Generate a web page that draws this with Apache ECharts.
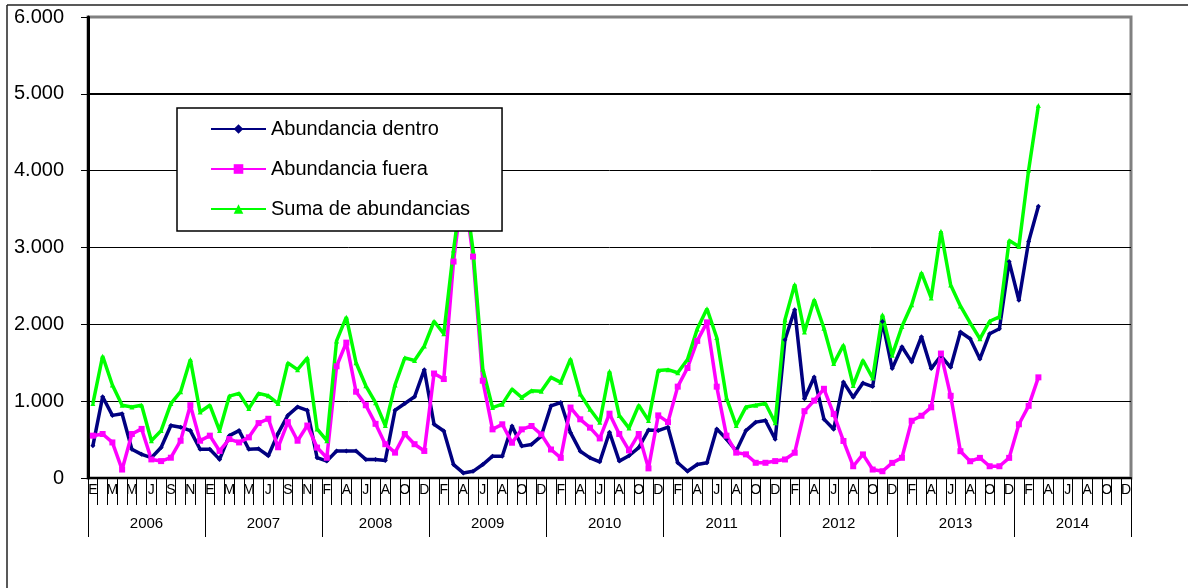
<!DOCTYPE html>
<html>
<head>
<meta charset="utf-8">
<script src="https://cdn.jsdelivr.net/npm/echarts@6/dist/echarts.min.js"></script>
<style>
  html, body { margin: 0; padding: 0; background: #fff; }
  #chart { width: 1188px; height: 588px; }
</style>
</head>
<body>
<div id="chart"></div>
<script>
// meses y años del eje (2008 empieza en febrero)
const monthLetters = ['E', 'F', 'M', 'A', 'M', 'J', 'J', 'A', 'S', 'O', 'N', 'D']
const years = ['2006', '2007', '2008', '2009', '2010', '2011', '2012', '2013', '2014']
const yearMonths = [12, 12, 11, 12, 12, 12, 12, 12, 12]

const dentro = [
  419, 1057, 815, 837, 374, 308, 264, 396, 683, 661, 617, 374,
  374, 242, 551, 617, 374, 380, 290, 580, 815, 925, 881, 264,
  220, 352, 352, 352, 242, 242, 229, 881, 969, 1057, 1410,
  700, 611, 175, 66, 87, 175, 284, 284, 677, 415, 437, 546,
  939, 983, 590, 349, 262, 210, 595, 220, 290, 396, 625, 617,
  661, 198, 88, 176, 198, 639, 507, 352, 617, 727, 749, 505,
  1800, 2190, 1030, 1314, 766, 635, 1248, 1051, 1235, 1190, 2037, 1424,
  1708, 1511, 1840, 1424, 1590, 1441, 1900, 1812, 1550, 1878, 1943, 2817,
  2314, 3079, 3537
]
const fuera = [
  551, 573, 463, 110, 573, 639, 242, 220, 264, 485, 947, 485,
  551, 352, 507, 463, 529, 715, 771, 400, 727, 485, 683, 396,
  264, 1454, 1762, 1123, 947, 705, 440, 330, 573, 440, 352,
  1360, 1288, 2817, 3830, 2882, 1266, 633, 699, 459, 633, 677, 568,
  371, 262, 917, 764, 655, 515, 837, 573, 360, 573, 125, 815,
  727, 1189, 1432, 1784, 2026, 1189, 551, 330, 308, 198, 198, 220,
  241, 329, 870, 1007, 1161, 832, 482, 153, 307, 110, 88, 197,
  263, 745, 810, 920, 1620, 1070, 349, 218, 262, 153, 153, 262,
  699, 939, 1310
]
const suma = [
  969, 1586, 1211, 947, 925, 947, 485, 617, 969, 1123, 1542, 859,
  947, 617, 1066, 1101, 903, 1101, 1070, 969, 1498, 1410, 1564, 639,
  485, 1784, 2093, 1500, 1200, 980, 683, 1211, 1564, 1530, 1718,
  2040, 1878, 2969, 3900, 2969, 1420, 917, 961, 1157, 1048, 1135, 1130,
  1310, 1245, 1550, 1092, 895, 725, 1388, 815, 650, 947, 750, 1400,
  1410, 1370, 1542, 1938, 2203, 1828, 1040, 683, 925, 947, 969, 720,
  2059, 2519, 1900, 2321, 1949, 1489, 1730, 1205, 1533, 1300, 2124, 1599,
  1971, 2256, 2672, 2343, 3210, 2511, 2240, 2020, 1812, 2040, 2096, 3090,
  3013, 4010, 4847
]

const FONT = 'Arial, "Liberation Sans", sans-serif'

// categorias mensuales y limites de cada año
const categories = []
const yearEdges = [0]
const yearMids = []
yearMonths.forEach((n, i) => {
  monthLetters.slice(12 - n).forEach(m => categories.push(m))
  yearMids.push(yearEdges[i] + n / 2)
  yearEdges.push(yearEdges[i] + n)
})
const totalMonths = yearEdges[yearEdges.length - 1]

const chart = echarts.init(document.getElementById('chart'))
const option = {
  animation: false,
  backgroundColor: '#fff',
  textStyle: { fontFamily: FONT },
  grid: {
    left: 88, right: 57, top: 17, bottom: 110,
    show: true, borderColor: '#808080', borderWidth: 3
  },
  legend: {
    orient: 'vertical',
    left: 177,
    top: 108,
    padding: [11, 32, 12, 33],
    itemGap: 20,
    itemWidth: 55,
    itemHeight: 12,
    backgroundColor: '#fff',
    borderColor: '#000',
    borderWidth: 1.5,
    textStyle: { fontFamily: FONT, fontSize: 20, color: '#000' },
    data: ['Abundancia dentro', 'Abundancia fuera', 'Suma de abundancias']
  },
  xAxis: [
    {
      type: 'category',
      data: categories,
      boundaryGap: true,
      axisLine: { lineStyle: { color: '#000', width: 2 } },
      axisTick: { show: true, interval: 0, length: 27, lineStyle: { color: '#000' } },
      axisLabel: { interval: 1, margin: 5, fontSize: 14, color: '#000', fontFamily: FONT },
      splitLine: { show: false }
    },
    {
      type: 'value',
      position: 'bottom',
      min: 0,
      max: totalMonths,
      axisLine: { show: false },
      splitLine: { show: false },
      axisTick: { show: true, length: 59, customValues: yearEdges, lineStyle: { color: '#000' } },
      axisLabel: {
        customValues: yearMids,
        margin: 38,
        fontSize: 15,
        color: '#000',
        fontFamily: FONT,
        formatter: v => years[yearMids.indexOf(v)]
      }
    }
  ],
  yAxis: {
    type: 'value',
    min: 0,
    max: 6000,
    interval: 1000,
    axisLine: { show: true, lineStyle: { color: '#000', width: 3 } },
    axisTick: { show: true, length: 7, lineStyle: { color: '#000' } },
    axisLabel: {
      margin: 24,
      fontSize: 20,
      color: '#000',
      fontFamily: FONT,
      formatter: v => String(v).replace(/\B(?=(\d{3})+(?!\d))/g, '.')
    },
    splitLine: { show: true, showMaxLine: false, showMinLine: false, lineStyle: { color: '#000', width: 1 } }
  },
  series: [
    {
      name: 'Abundancia dentro',
      type: 'line',
      data: dentro,
      symbol: 'diamond',
      symbolSize: 5,
      color: '#000080',
      lineStyle: { width: 3.5, color: '#000080' },
      markLine: {
        silent: true,
        symbol: 'none',
        label: { show: false },
        lineStyle: { color: '#000', width: 2, type: 'solid' },
        data: [{ yAxis: 5000 }]
      }
    },
    {
      name: 'Abundancia fuera',
      type: 'line',
      data: fuera,
      symbol: 'rect',
      symbolSize: 6,
      color: '#ff00ff',
      lineStyle: { width: 3.5, color: '#ff00ff' }
    },
    {
      name: 'Suma de abundancias',
      type: 'line',
      data: suma,
      symbol: 'triangle',
      symbolSize: 5,
      color: '#00ff00',
      lineStyle: { width: 3.5, color: '#00ff00' }
    }
  ],
  graphic: [
    { type: 'line', shape: { x1: 7, y1: 5, x2: 7, y2: 588 }, style: { stroke: '#222', lineWidth: 1.5 } },
    { type: 'line', shape: { x1: 7, y1: 5, x2: 1188, y2: 5 }, style: { stroke: '#222', lineWidth: 1.5 } }
  ]
}
chart.setOption(option)
</script>
</body>
</html>
